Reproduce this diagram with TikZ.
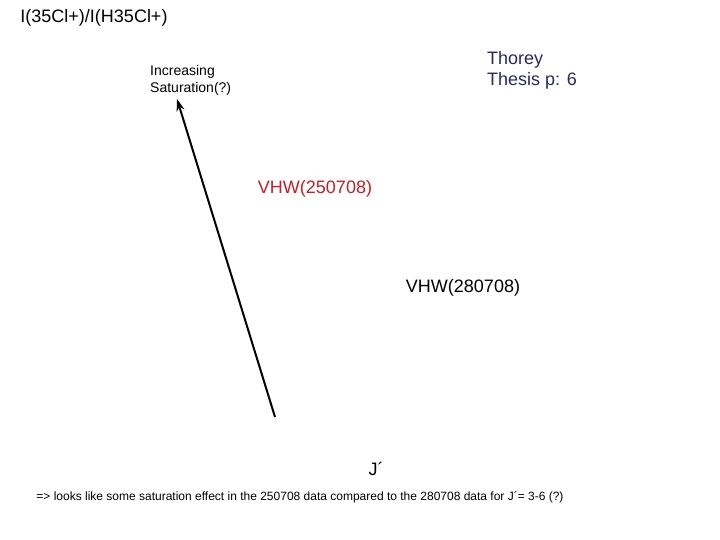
\documentclass[tikz,border=0pt]{standalone}
\usepackage{fontspec}
\setmainfont{Liberation Sans}
\usetikzlibrary{arrows.meta}
\definecolor{navy}{RGB}{40,40,100}
\definecolor{redtxt}{RGB}{192,32,38}
\begin{document}
\begin{tikzpicture}[x=1pt,y=-1pt,
  lbl/.style={inner sep=0pt, font=\fontsize{18}{21}\selectfont},
  small/.style={inner sep=0pt, font=\fontsize{14}{17}\selectfont},
  tiny/.style={inner sep=0pt, font=\fontsize{12}{14}\selectfont}]
\useasboundingbox (0,0) rectangle (720,540);
\node[lbl] (title) at (94,18) {I(35Cl+)/I(H35Cl+)};
\node[lbl, text=navy, align=left, anchor=west] (thorey) at (487,70) {Thorey\\Thesis p: 6};
\node[small, align=left, anchor=west] (incr) at (150,80.5) {Increasing\\Saturation(?)};
\node[lbl, text=redtxt] (v1) at (315,189) {VHW(250708)};
\node[lbl] (v2) at (463,288) {VHW(280708)};
\node[lbl] (j) at (376,469) {J´};
\node[tiny] (note) at (300,497) {=> looks like some saturation effect in the 250708 data compared to the 280708 data for J´= 3-6 (?)};
\coordinate (a0) at (275,417);
\coordinate (a1) at (177,99);
\draw[line width=2pt, -{Stealth[length=12pt,width=8pt]}] (a0) -- (a1);
\end{tikzpicture}
\end{document}
